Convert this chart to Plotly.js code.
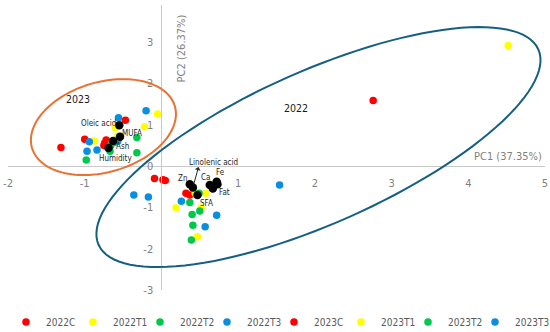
<!DOCTYPE html>
<html>
<head>
<meta charset="utf-8">
<script src="https://cdn.plot.ly/plotly-3.0.1.min.js"></script>
<style>html,body{margin:0;padding:0;background:#fff;}#chart{width:550px;height:332px;}</style>
</head>
<body>
<div id="chart"></div>
<script>
// ---- data ----
const seriesNames = ["2022C","2022T1","2022T2","2022T3","2023C","2023T1","2023T2","2023T3"];
const x2022C  = [-0.09, 0.02, 0.05, 0.32, 0.37, 2.76];
const y2022C  = [-0.30, -0.33, -0.35, -0.66, -0.70, 1.59];
const x2022T1 = [4.52, 0.58, 0.44, 0.19, 0.52, 0.47];
const y2022T1 = [2.92, -0.66, -0.66, -1.01, -1.01, -1.71];
const x2022T2 = [0.49, 0.37, 0.50, 0.40, 0.41, 0.39];
const y2022T2 = [-0.66, -0.88, -1.09, -1.17, -1.43, -1.79];
const x2022T3 = [1.54, -0.36, -0.17, 0.26, 0.72, 0.57];
const y2022T3 = [-0.46, -0.70, -0.75, -0.85, -1.19, -1.47];
const x2023C  = [-0.47, -1.00, -0.72, -0.74, -0.75, -1.31];
const y2023C  = [1.11, 0.65, 0.63, 0.56, 0.50, 0.45];
const x2023T1 = [-0.05, -0.60, -0.22, -0.57, -0.87, -0.64];
const y2023T1 = [1.26, 0.93, 0.95, 0.72, 0.61, 0.58];
const x2023T2 = [-0.32, -0.67, -0.32, -0.98, -0.60, -0.66];
const y2023T2 = [0.69, 0.36, 0.32, 0.15, 0.58, 0.50];
const x2023T3 = [-0.20, -0.56, -0.94, -0.97, -0.84, -0.57];
const y2023T3 = [1.34, 1.17, 0.59, 0.36, 0.39, 0.60];

const loadNames = ["Oleic acid","MUFA","Ash","Humidity","Zn","Linolenic acid","Ca","Fe","Fat","","SFA"];
const loadX = [-0.55, -0.54, -0.63, -0.69, 0.37, 0.41, 0.63, 0.72, 0.67, 0.73, 0.47];
const loadY = [0.99, 0.71, 0.61, 0.44, -0.44, -0.52, -0.46, -0.38, -0.54, -0.44, -0.70];

const xTicks = [-2, -1, 1, 2, 3, 4, 5];
const yTicks = [-3, -2, -1, 0, 1, 2, 3];
const groupLabels = ["2023", "2022"];
const groupLabelX = [-1.09, 1.76];
const groupLabelY = [1.62, 1.40];
const xTitle = "PC1 (37.35%)";
const yTitle = "PC2 (26.37%)";

// ---- styling ----
const colors = ["#ff0000","#ffff00","#00c84b","#0a8fe0","#ff0000","#ffff00","#00c84b","#0a8fe0"];
const W = 550, H = 332;
const M = {l: 8, r: 5, t: 5, b: 42};
const xRange = [-2, 5], yRange = [-3, 3.9];
const xs = (W - M.l - M.r) / (xRange[1] - xRange[0]);
const ys = (H - M.t - M.b) / (yRange[1] - yRange[0]);
const FONT = "DejaVu Sans Condensed, Liberation Sans, sans-serif";
const legendStartPx = 26, legendStepPx = 67;

// label offsets (px) for loading labels
const labShiftX = [-21, 12, 9, 7, -7, 0, -4, 4, 12, 0, 9];
const labShiftY = [2, 3, -6, -11, 6, 0, 8, 9, -4, 0, -8];

const xs_all = [x2022C,x2022T1,x2022T2,x2022T3,x2023C,x2023T1,x2023T2,x2023T3];
const ys_all = [y2022C,y2022T1,y2022T2,y2022T3,y2023C,y2023T1,y2023T2,y2023T3];

const legendKey = i => (i === 0 ? "legend" : "legend" + (i + 1));

const traces = seriesNames.map((n, i) => ({
  type: "scatter", mode: "markers", name: n, legend: legendKey(i),
  x: xs_all[i], y: ys_all[i],
  marker: {color: colors[i], size: 7.5, line: {width: 0}},
  hoverinfo: "x+y+name"
}));
traces.push({
  type: "scatter", mode: "markers", name: "loadings", showlegend: false,
  x: loadX, y: loadY, marker: {color: "#000000", size: 8.5}
});

// ellipse shapes (center in data units, semi-axes in px, angle in deg)
const ellipseSpec = [
  {cx: -0.756, cy: 0.944, a: 74.4, b: 45, ang: 16.3, color: "#E97132"},
  {cx: 2.047, cy: 0.46, a: 240.6, b: 76.3, ang: 23.95, color: "#156082"}
];
function ellipsePath(e) {
  const th = e.ang * Math.PI / 180;
  let p = "";
  for (let k = 0; k <= 120; k++) {
    const t = 2 * Math.PI * k / 120;
    const u = e.a * Math.cos(t), v = e.b * Math.sin(t);
    const dx = u * Math.cos(th) - v * Math.sin(th);
    const dy = u * Math.sin(th) + v * Math.cos(th);
    p += (k === 0 ? "M" : "L") + (e.cx + dx / xs).toFixed(4) + "," + (e.cy + dy / ys).toFixed(4);
  }
  return p + "Z";
}
const shapes = ellipseSpec.map(e => ({
  type: "path", xref: "x", yref: "y", path: ellipsePath(e),
  line: {color: e.color, width: 2}, fillcolor: "rgba(0,0,0,0)"
}));

const annotations = [];
loadNames.forEach((n, i) => {
  if (!n) return;
  annotations.push({
    x: loadX[i], y: loadY[i], xref: "x", yref: "y", text: n, showarrow: false,
    xshift: labShiftX[i] + (i === 5 ? 21 : 0), yshift: labShiftY[i] + (i === 5 ? 25 : 0),
    font: {family: FONT, size: 8, color: "#262626"}
  });
});
// arrow for Linolenic acid
annotations.push({
  x: loadX[5], y: loadY[5], xref: "x", yref: "y", text: "", showarrow: true,
  ax: 6, ay: -22, arrowside: "start", arrowhead: 2, arrowsize: 1, arrowwidth: 1,
  arrowcolor: "#262626", standoff: 3, startstandoff: 0
});
groupLabels.forEach((g, i) => annotations.push({
  x: groupLabelX[i], y: groupLabelY[i], xref: "x", yref: "y", text: g, showarrow: false,
  font: {family: FONT, size: 10.5, color: "#1a1a1a"}
}));
annotations.push({
  x: 1, y: 0, xref: "paper", yref: "y", text: xTitle, showarrow: false,
  xanchor: "right", yanchor: "bottom", xshift: -1, yshift: 1,
  font: {family: FONT, size: 11, color: "#7f7f7f"}
});
annotations.push({
  x: 0, y: 2.86, xref: "x", yref: "y", text: yTitle, showarrow: false, textangle: -90,
  xshift: 21, font: {family: FONT, size: 11, color: "#7f7f7f"}
});

const layout = {
  width: W, height: H, margin: M,
  paper_bgcolor: "#ffffff", plot_bgcolor: "#ffffff",
  showlegend: true,
  xaxis: {
    range: xRange, anchor: "free", position: (0 - yRange[0]) / (yRange[1] - yRange[0]),
    tickvals: xTicks, ticktext: xTicks.map(String), showgrid: false, zeroline: false,
    showline: true, linecolor: "#c9c9c9", linewidth: 1, ticks: "",
    ticklabelstandoff: 7,
    tickfont: {family: FONT, size: 11, color: "#7f7f7f"}
  },
  yaxis: {
    range: yRange, anchor: "free", position: (0 - xRange[0]) / (xRange[1] - xRange[0]),
    tickvals: yTicks, ticktext: yTicks.map(String), showgrid: false, zeroline: false,
    showline: true, linecolor: "#c9c9c9", linewidth: 1, ticks: "",
    ticklabelstandoff: 6,
    tickfont: {family: FONT, size: 11, color: "#7f7f7f"}
  },
  shapes: shapes,
  annotations: annotations
};
seriesNames.forEach((n, i) => {
  layout[legendKey(i)] = {
    orientation: "h", xref: "container", yref: "container",
    x: (legendStartPx + legendStepPx * i - 20) / W, xanchor: "left",
    y: 0.03, yanchor: "middle", itemwidth: 30,
    font: {family: FONT, size: 10, color: "#595959"}, bgcolor: "rgba(0,0,0,0)"
  };
});
Plotly.newPlot("chart", traces, layout, {displayModeBar: false, staticPlot: true});
</script>
</body>
</html>
